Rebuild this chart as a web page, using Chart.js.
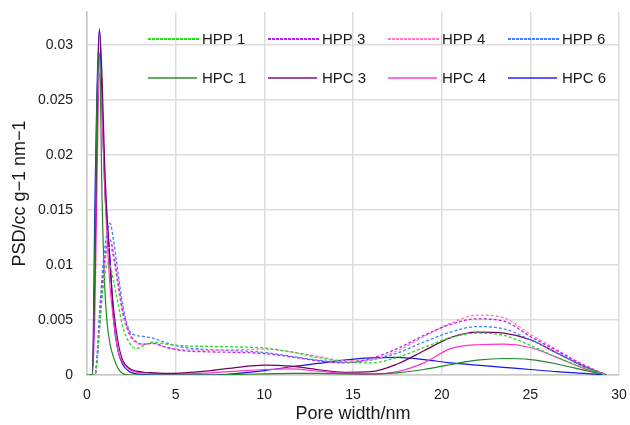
<!DOCTYPE html>
<html>
<head>
<meta charset="utf-8">
<script src="https://cdn.jsdelivr.net/npm/chart.js@4/dist/chart.umd.min.js"></script>
<style>
  body { margin: 0; background: #fff; }
  #wrap { width: 630px; height: 425px; }
</style>
</head>
<body>
<div id="wrap"><canvas id="psd-chart"></canvas></div>
<script>
// Pore width (nm) sample positions
const poreWidth = [0, 0.3, 0.45, 0.55, 0.7, 0.85, 1.0, 1.15, 1.3, 1.5, 1.75, 2.0, 2.4, 2.8, 3.2, 3.7, 4.5, 5.5, 7, 8.5, 10, 11.5, 13, 14.5, 16, 17.5, 19, 20.5, 22, 23.5, 25, 26.5, 28, 29.3];

// PSD values (cc g-1 nm-1)
const hpp1 = [0, 0, 0, 0.001, 0.004, 0.007, 0.009, 0.0102, 0.010, 0.0085, 0.0065, 0.0045, 0.0029, 0.0024, 0.0027, 0.003, 0.0028, 0.00265, 0.0026, 0.00255, 0.00245, 0.0021, 0.0016, 0.0012, 0.0011, 0.0016, 0.0025, 0.0034, 0.0038, 0.0036, 0.0027, 0.0016, 0.0007, 0];
const hpp3 = [0, 0, 0, 0.001, 0.0045, 0.008, 0.0105, 0.012, 0.0123, 0.011, 0.0085, 0.006, 0.0038, 0.003, 0.0028, 0.0029, 0.0025, 0.0022, 0.0021, 0.00205, 0.00195, 0.00165, 0.0013, 0.0011, 0.0015, 0.0024, 0.0036, 0.0046, 0.0051, 0.0049, 0.0035, 0.0022, 0.0009, 0];
const hpp4 = [0, 0, 0, 0.001, 0.004, 0.0075, 0.010, 0.0115, 0.0116, 0.0105, 0.008, 0.0056, 0.0036, 0.0029, 0.0028, 0.00285, 0.0025, 0.0023, 0.00225, 0.0023, 0.00235, 0.0021, 0.0017, 0.0013, 0.0014, 0.0022, 0.0035, 0.0047, 0.00545, 0.0052, 0.0037, 0.0023, 0.00095, 0];
const hpp6 = [0, 0, 0, 0.0015, 0.0055, 0.009, 0.0115, 0.013, 0.0138, 0.0122, 0.0093, 0.0065, 0.004, 0.0036, 0.0035, 0.00335, 0.0029, 0.0025, 0.0023, 0.0022, 0.00205, 0.0017, 0.00135, 0.00115, 0.00135, 0.002, 0.003, 0.0039, 0.0044, 0.0042, 0.0032, 0.002, 0.0008, 0];
const hpc1 = [0, 0, 0.012, 0.024, 0.0293, 0.016, 0.008, 0.0045, 0.0028, 0.0016, 0.0006, 0.00015, 0, 0, 0, 0, 0, 0, 0, 0.00005, 0.0001, 0.00015, 0.00015, 0.0001, 0.0001, 0.0002, 0.0005, 0.00095, 0.00135, 0.0015, 0.0014, 0.001, 0.00045, 0];
const hpc3 = [0, 0, 0.010, 0.021, 0.0314, 0.027, 0.019, 0.014, 0.010, 0.006, 0.003, 0.0014, 0.0006, 0.00035, 0.00025, 0.0002, 0.00015, 0.0002, 0.0004, 0.0007, 0.0009, 0.0008, 0.0005, 0.00025, 0.0003, 0.001, 0.0022, 0.0034, 0.0039, 0.0038, 0.0032, 0.002, 0.0008, 0];
const hpc4 = [0, 0, 0.006, 0.016, 0.0274, 0.024, 0.017, 0.012, 0.008, 0.005, 0.0022, 0.0012, 0.0005, 0.00025, 0.0002, 0.00015, 0.0001, 0.0001, 0.0002, 0.00035, 0.0005, 0.00055, 0.00035, 0.00015, 0.00005, 0.0003, 0.0011, 0.0024, 0.00275, 0.0028, 0.0025, 0.0016, 0.0006, 0];
const hpc6 = [0, 0, 0.016, 0.025, 0.0315, 0.0245, 0.017, 0.0135, 0.0105, 0.005, 0.0022, 0.001, 0.0003, 0.0001, 0.00005, 0, 0, 0, 0, 0.00015, 0.0004, 0.00075, 0.00105, 0.00135, 0.00155, 0.0016, 0.0014, 0.0011, 0.0009, 0.0007, 0.0005, 0.0003, 0.00015, 0];

const xTicks = [0, 5, 10, 15, 20, 25, 30];
const yTicks = [0, 0.005, 0.01, 0.015, 0.02, 0.025, 0.03];

const FONT = '"Liberation Sans", Arial, Helvetica, sans-serif';

function series(label, values, color, dashed) {
    return {
        label: label,
        data: poreWidth.map((x, i) => ({ x: x, y: values[i] })),
        borderColor: color,
        borderWidth: dashed ? 1.3 : 1.2,
        borderDash: dashed ? [3, 2] : [],
        pointRadius: 0,
        fill: false,
        cubicInterpolationMode: 'monotone'
    };
}

// legend drawn inside the plot area, 2 rows x 4 columns
const insideLegend = {
    id: 'insideLegend',
    afterDraw(chart) {
        const c = chart.ctx;
        const area = chart.chartArea;
        c.save();
        c.font = '15px ' + FONT;
        c.textBaseline = 'middle';
        chart.data.datasets.forEach((ds, i) => {
            const col = i % 4;
            const row = Math.floor(i / 4);
            const x = Math.round(area.left + 61 + col * 120);
            const y = Math.round(area.top + 27 + row * 39);
            const dashed = ds.borderDash.length > 0;
            c.fillStyle = ds.borderColor;
            if (dashed) {
                for (let dx = 0; dx < 49; dx += 4) {
                    c.fillRect(x + dx, y - 1, 3, 2);
                }
            } else {
                c.globalAlpha = 0.7;
                c.fillRect(x, y - 1, 49, 2);
                c.globalAlpha = 1;
            }
            c.fillStyle = '#1a1a1a';
            c.fillText(ds.label, x + 54, y + 1);
        });
        c.restore();
    }
};

const ctx = document.getElementById('psd-chart').getContext('2d');
new Chart(ctx, {
    type: 'line',
    data: {
        datasets: [
            series('HPP 1', hpp1, '#22dd22', true),
            series('HPP 3', hpp3, '#bb22ee', true),
            series('HPP 4', hpp4, '#ff77cc', true),
            series('HPP 6', hpp6, '#4080ff', true),
            series('HPC 1', hpc1, '#228822', false),
            series('HPC 3', hpc3, '#770066', false),
            series('HPC 4', hpc4, '#ff33cc', false),
            series('HPC 6', hpc6, '#1515ee', false)
        ]
    },
    options: {
        responsive: true,
        maintainAspectRatio: false,
        animation: false,
        layout: { padding: { top: 12, right: 11, left: 0, bottom: 0 } },
        plugins: {
            legend: { display: false },
            tooltip: { enabled: false }
        },
        scales: {
            x: {
                type: 'linear',
                min: 0,
                max: 30,
                afterFit: scale => {
                    scale.height = 50;
                    scale.paddingLeft = 0;
                    scale.paddingRight = 0;
                },
                afterBuildTicks: scale => { scale.ticks = xTicks.map(v => ({ value: v })); },
                grid: { color: '#dddddd', lineWidth: 1.5, drawTicks: false },
                border: { color: '#c8c8c8', width: 1.5 },
                ticks: { padding: 12, color: '#1a1a1a', font: { family: FONT, size: 14 } },
                title: {
                    display: true,
                    text: 'Pore width/nm',
                    color: '#1a1a1a',
                    font: { family: FONT, size: 18 },
                    padding: { top: 0, bottom: 0 }
                }
            },
            y: {
                type: 'linear',
                min: 0,
                max: 0.033,
                afterFit: scale => {
                    scale.width = 87;
                    scale.paddingTop = 0;
                    scale.paddingBottom = 0;
                },
                afterBuildTicks: scale => { scale.ticks = yTicks.map(v => ({ value: v })); },
                grid: { color: '#dddddd', lineWidth: 1.5, drawTicks: false },
                border: { color: '#c8c8c8', width: 1.5 },
                ticks: {
                    padding: 14,
                    color: '#1a1a1a',
                    font: { family: FONT, size: 14 },
                    callback: v => String(+v.toFixed(3))
                },
                title: {
                    display: true,
                    text: 'PSD/cc g\u22121 nm\u22121',
                    color: '#1a1a1a',
                    font: { family: FONT, size: 18 },
                    padding: { top: 9, bottom: 0 }
                }
            }
        }
    },
    plugins: [insideLegend]
});
</script>
</body>
</html>
